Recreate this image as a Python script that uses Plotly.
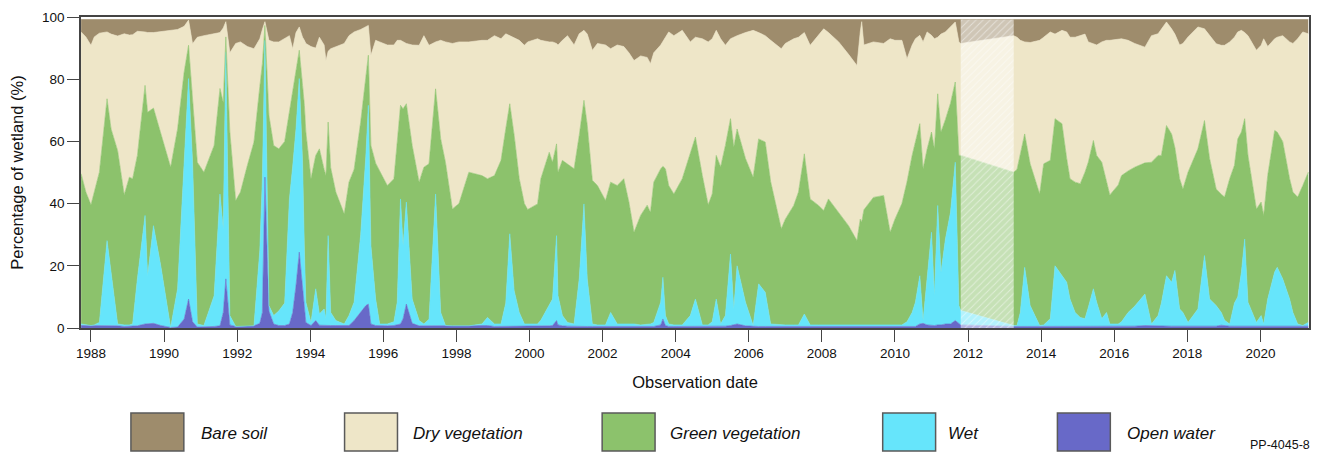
import plotly.graph_objects as go

# ---------------- data ----------------
obs_date = [1987.73, 1987.86, 1988.00, 1988.09, 1988.23, 1988.44, 1988.55, 1988.73, 1988.91, 1989.05,
            1989.14, 1989.27, 1989.48, 1989.55, 1989.71, 1989.91, 1990.18, 1990.37, 1990.55, 1990.67,
            1990.78, 1990.91, 1991.09, 1991.37, 1991.53, 1991.62, 1991.69, 1991.80, 1991.96, 1992.09,
            1992.28, 1992.46, 1992.62, 1992.69, 1992.76, 1992.87, 1993.00, 1993.14, 1993.30, 1993.43,
            1993.52, 1993.61, 1993.70, 1993.79, 1993.84, 1993.88, 1994.02, 1994.15, 1994.25, 1994.38,
            1994.43, 1994.49, 1994.56, 1994.70, 1994.93, 1995.06, 1995.20, 1995.38, 1995.52, 1995.59,
            1995.66, 1995.79, 1995.90, 1996.11, 1996.29, 1996.38, 1996.47, 1996.54, 1996.63, 1996.79,
            1996.98, 1997.11, 1997.25, 1997.43, 1997.57, 1997.70, 1997.89, 1998.07, 1998.34, 1998.70,
            1998.85, 1999.04, 1999.22, 1999.35, 1999.46, 1999.58, 1999.72, 1999.86, 1999.95, 2000.22,
            2000.31, 2000.54, 2000.63, 2000.74, 2000.78, 2000.90, 2001.04, 2001.22, 2001.36, 2001.49,
            2001.58, 2001.72, 2001.86, 2002.08, 2002.22, 2002.40, 2002.58, 2002.72, 2002.86, 2003.04,
            2003.22, 2003.31, 2003.40, 2003.59, 2003.65, 2003.72, 2003.81, 2003.95, 2004.18, 2004.40,
            2004.54, 2004.73, 2004.89, 2005.00, 2005.11, 2005.23, 2005.36, 2005.50, 2005.59, 2005.68,
            2005.91, 2006.12, 2006.27, 2006.45, 2006.60, 2006.89, 2007.00, 2007.23, 2007.36, 2007.52,
            2007.68, 2007.91, 2008.05, 2008.18, 2008.46, 2008.73, 2008.96, 2009.05, 2009.09, 2009.15,
            2009.41, 2009.69, 2009.87, 2010.00, 2010.19, 2010.33, 2010.47, 2010.56, 2010.68, 2010.77,
            2010.88, 2011.00, 2011.08, 2011.17, 2011.26, 2011.38, 2011.52, 2011.65, 2011.75, 2011.80,
            2013.25, 2013.34, 2013.43, 2013.55, 2013.70, 2013.96, 2014.07, 2014.25, 2014.38, 2014.57,
            2014.70, 2014.79, 2014.93, 2015.07, 2015.20, 2015.29, 2015.43, 2015.52, 2015.66, 2015.79,
            2015.88, 2016.11, 2016.20, 2016.38, 2016.56, 2016.84, 2017.02, 2017.20, 2017.29, 2017.43,
            2017.57, 2017.66, 2017.79, 2017.88, 2018.02, 2018.29, 2018.47, 2018.61, 2018.79, 2018.93,
            2019.02, 2019.16, 2019.29, 2019.38, 2019.48, 2019.57, 2019.66, 2019.89, 2020.02, 2020.09,
            2020.20, 2020.39, 2020.46, 2020.61, 2020.80, 2020.89, 2021.02, 2021.16, 2021.31]

open_water = [0.8, 0.8, 0.8, 0.8, 0.8, 0.7, 0.7, 0.7, 0.5, 0.5,
              0.5, 0.7, 1.3, 1.3, 1.5, 0.8, 0.2, 0.3, 2.9, 9.3,
              2.0, 0.3, 0.3, 0.5, 0.7, 5.0, 15.8, 1.0, 0.5, 0.5,
              0.5, 0.7, 1.5, 5.0, 48.5, 5.5, 1.3, 0.8, 0.8, 1.3,
              5.0, 13.6, 24.4, 12.5, 5.0, 1.8, 0.8, 2.4, 0.9, 0.8,
              0.8, 0.8, 0.8, 0.8, 0.8, 0.8, 2.4, 5.0, 7.2, 7.7,
              1.3, 0.8, 0.7, 0.7, 0.8, 1.0, 1.3, 3.0, 7.7, 1.5,
              0.7, 0.7, 0.7, 0.7, 0.7, 0.7, 0.7, 0.7, 0.7, 0.7,
              0.8, 0.5, 0.5, 0.5, 0.5, 0.5, 0.5, 0.5, 0.5, 0.5,
              0.6, 0.7, 0.8, 2.4, 1.0, 0.7, 0.6, 0.5, 0.5, 0.5,
              0.5, 0.5, 0.5, 0.5, 0.5, 0.5, 0.5, 0.5, 0.5, 0.5,
              0.5, 0.5, 0.5, 1.0, 2.9, 0.8, 0.5, 0.5, 0.5, 0.5,
              0.5, 0.5, 0.5, 0.5, 0.5, 0.5, 0.6, 0.8, 1.0, 1.3,
              0.7, 0.5, 0.5, 0.5, 0.5, 0.5, 0.5, 0.5, 0.5, 0.5,
              0.5, 0.5, 0.5, 0.5, 0.5, 0.5, 0.5, 0.5, 0.5, 0.5,
              0.5, 0.5, 0.5, 0.5, 0.5, 0.5, 0.5, 0.5, 1.3, 1.5,
              1.0, 0.8, 0.8, 1.0, 1.0, 1.3, 1.3, 2.4, 1.3, 1.0,
              0.5, 0.5, 0.5, 0.5, 0.5, 0.5, 0.5, 0.5, 0.5, 0.5,
              0.5, 0.5, 0.5, 0.5, 0.5, 0.5, 0.5, 0.5, 0.5, 0.5,
              0.5, 0.5, 0.5, 0.5, 0.6, 0.8, 0.7, 0.6, 0.6, 0.6,
              0.6, 0.6, 0.6, 0.6, 0.6, 0.6, 0.6, 0.6, 0.6, 0.9,
              0.7, 0.6, 0.6, 0.6, 0.6, 0.6, 0.6, 0.8, 0.6, 0.6,
              0.6, 0.6, 0.6, 0.6, 0.6, 0.6, 0.6, 0.6, 0.6]

wet = [0.5, 0.2, 0.0, 0.2, 1.0, 27.4, 17.2, 0.6, 0.5, 0.5,
       0.8, 15.1, 34.9, 15.5, 31.4, 19.2, 0.0, 12.3, 50.4, 70.9,
       51.3, 1.0, 0.5, 9.9, 42.4, 26.9, 72.9, 3.0, 0.0, 0.0,
       0.0, 0.0, 23.5, 43.0, 44.0, 1.7, 2.7, 4.7, 7.2, 40.2,
       47.0, 50.4, 55.8, 40.8, 20.0, 6.5, 1.0, 10.2, 3.6, 5.3,
       2.2, 28.9, 4.2, 1.6, 0.5, 3.2, 5.9, 25.0, 47.8, 63.9,
       25.2, 8.5, 0.6, 0.6, 1.2, 7.3, 40.2, 23.5, 32.8, 7.8,
       1.7, 0.6, 2.1, 42.4, 4.3, 0.1, 0.0, 0.0, 0.0, 0.6,
       2.6, 0.8, 0.8, 7.5, 29.8, 11.5, 4.5, 0.8, 0.8, 0.8,
       1.9, 6.5, 8.5, 27.3, 9.4, 3.3, 1.2, 0.8, 15.3, 39.4,
       15.3, 0.8, 0.5, 0.5, 4.5, 0.8, 0.8, 0.8, 0.8, 0.5,
       0.8, 0.8, 1.3, 7.3, 13.4, 3.2, 0.8, 0.5, 0.5, 3.5,
       8.8, 0.5, 0.5, 1.5, 8.8, 0.8, 3.4, 23.0, 5.1, 18.7,
       7.6, 0.3, 13.7, 11.0, 0.8, 0.5, 0.5, 0.5, 0.5, 4.0,
       0.5, 0.5, 0.5, 0.5, 0.5, 0.5, 0.5, 0.5, 0.5, 0.5,
       0.5, 0.5, 0.5, 0.5, 0.5, 1.5, 4.5, 7.8, 15.5, 0.9,
       14.8, 30.0, 9.6, 38.4, 16.9, 27.2, 35.9, 50.9, 5.9, 4.6,
       0.3, 0.3, 4.5, 19.0, 6.7, 0.3, 0.5, 2.5, 19.5, 16.5,
       14.2, 8.8, 4.5, 2.9, 2.5, 6.1, 12.1, 7.8, 2.5, 4.5,
       0.8, 0.8, 1.5, 4.5, 6.4, 10.1, 0.6, 3.4, 7.4, 16.2,
       14.1, 17.9, 5.5, 4.4, 1.2, 5.5, 22.7, 8.7, 6.6, 4.1,
       1.8, 0.7, 7.4, 9.4, 17.3, 28.0, 7.7, 1.0, 3.4, 0.7,
       8.7, 17.4, 18.9, 15.2, 8.7, 4.4, 0.7, 0.2, 1.2]

green_vegetation = [48.3, 42.7, 38.8, 42.7, 48.3, 45.6, 46.1, 55.7, 41.8, 47.5,
                    46.7, 39.7, 41.8, 52.6, 37.8, 42.6, 51.5, 51.4, 29.0, 10.7,
                    20.4, 52.0, 49.3, 48.3, 33.9, 40.6, 4.9, 59.0, 40.5, 43.2,
                    51.8, 59.1, 52.6, 37.0, 4.8, 61.1, 54.7, 52.1, 52.0, 27.9,
                    24.0, 18.3, 9.1, 24.7, 46.6, 54.7, 46.2, 42.9, 53.1, 44.9,
                    46.0, 36.5, 46.5, 41.3, 35.4, 42.9, 42.7, 36.2, 25.0, 16.1,
                    32.2, 43.7, 49.2, 44.5, 46.0, 51.7, 30.1, 44.0, 31.6, 49.4,
                    44.5, 50.4, 50.0, 33.8, 55.8, 52.5, 37.6, 39.3, 49.4, 47.7,
                    44.6, 47.7, 52.6, 56.0, 41.8, 50.0, 43.0, 38.7, 36.8, 38.6,
                    45.5, 49.3, 44.0, 29.5, 39.7, 49.9, 51.0, 49.9, 46.1, 33.3,
                    49.5, 46.2, 44.8, 40.0, 41.9, 44.5, 46.7, 39.2, 29.5, 35.2,
                    38.2, 35.9, 45.1, 42.9, 35.7, 47.2, 44.5, 42.1, 47.0, 52.5,
                    52.1, 48.0, 38.6, 41.1, 46.2, 50.5, 54.7, 43.5, 52.1, 44.0,
                    46.2, 47.7, 46.6, 48.3, 45.7, 30.9, 34.0, 38.4, 42.7, 51.5,
                    40.5, 38.4, 36.8, 40.5, 36.2, 31.9, 27.1, 34.0, 33.0, 37.0,
                    41.0, 41.6, 29.8, 34.0, 39.0, 45.0, 50.5, 51.7, 48.9, 48.8,
                    41.7, 32.2, 47.2, 35.9, 45.1, 38.5, 35.1, 25.8, 48.3, 49.9,
                    49.3, 50.2, 51.0, 42.9, 45.6, 42.3, 51.8, 50.9, 47.3, 48.7,
                    39.8, 38.7, 41.9, 43.0, 47.1, 46.7, 47.7, 47.2, 50.3, 42.4,
                    41.5, 44.7, 47.0, 45.5, 44.7, 42.2, 52.0, 51.5, 47.5, 48.3,
                    47.7, 39.5, 41.9, 39.7, 48.3, 51.5, 43.4, 45.2, 37.5, 38.0,
                    39.6, 46.7, 44.3, 50.8, 45.1, 38.7, 47.2, 36.5, 36.5, 34.9,
                    39.7, 45.5, 43.5, 44.2, 38.7, 38.7, 40.8, 45.0, 48.3]

dry_vegetation = [45.6, 49.9, 51.3, 49.9, 44.7, 21.5, 30.5, 36.9, 51.8, 45.7,
                  46.3, 39.9, 17.2, 25.6, 24.3, 32.7, 44.1, 32.0, 14.7, 8.1,
                  17.7, 40.2, 43.9, 35.8, 18.0, 24.0, 4.9, 25.5, 50.5, 48.3,
                  38.2, 30.0, 15.4, 11.0, 1.2, 24.2, 33.3, 34.4, 33.0, 24.6,
                  13.8, 12.7, 7.5, 15.5, 20.9, 28.5, 42.5, 34.5, 35.9, 40.0,
                  37.0, 22.8, 38.3, 46.7, 54.8, 47.1, 44.2, 29.8, 16.8, 9.6,
                  29.0, 39.5, 41.5, 45.2, 43.0, 32.5, 20.9, 21.5, 19.4, 32.3,
                  44.0, 42.3, 38.1, 15.1, 31.7, 38.7, 53.2, 52.0, 41.9, 43.5,
                  44.5, 45.0, 39.1, 30.6, 21.9, 31.5, 44.5, 50.9, 53.9, 53.1,
                  44.5, 35.5, 38.7, 32.3, 40.9, 38.6, 41.2, 39.8, 32.7, 22.5,
                  29.2, 41.8, 45.7, 50.0, 42.9, 45.2, 42.5, 48.0, 55.2, 51.3,
                  47.5, 47.8, 41.6, 39.8, 40.0, 42.3, 49.4, 50.9, 47.7, 35.5,
                  32.1, 44.0, 52.4, 49.9, 40.2, 41.2, 32.2, 25.7, 35.3, 30.0,
                  40.5, 47.2, 34.2, 34.2, 45.5, 57.9, 56.5, 53.6, 49.8, 39.0,
                  49.4, 54.6, 58.4, 53.5, 54.8, 55.1, 56.3, 60.2, 64.5, 53.0,
                  50.0, 48.9, 62.2, 57.5, 52.5, 39.6, 35.5, 33.0, 28.4, 40.8,
                  37.7, 31.1, 35.4, 18.2, 31.5, 28.2, 24.5, 19.3, 36.5, 36.0,
                  43.9, 42.5, 36.5, 29.6, 39.0, 49.4, 40.7, 41.3, 27.2, 30.0,
                  40.7, 45.5, 46.6, 47.7, 44.4, 38.7, 31.2, 35.5, 38.7, 45.1,
                  49.7, 47.0, 44.0, 42.0, 39.8, 37.2, 40.7, 39.1, 40.5, 33.3,
                  33.8, 36.5, 43.0, 46.8, 43.5, 39.2, 29.5, 39.5, 46.7, 47.9,
                  48.8, 44.0, 41.2, 34.4, 32.7, 27.7, 38.5, 51.0, 50.4, 56.8,
                  41.5, 29.5, 30.5, 34.0, 44.0, 47.8, 50.9, 49.4, 44.5]

bare_soil = [4.0, 5.6, 8.3, 5.6, 4.4, 4.0, 4.7, 5.3, 4.6, 5.0,
             4.9, 3.8, 4.0, 4.2, 4.2, 3.9, 3.4, 3.2, 2.2, 0.2,
             7.8, 5.7, 5.2, 4.7, 4.2, 2.7, 0.7, 10.7, 7.7, 7.2,
             8.7, 9.4, 6.2, 3.2, 0.7, 6.7, 7.2, 7.2, 6.2, 5.2,
             9.4, 4.2, 2.4, 5.7, 6.7, 7.7, 8.7, 9.2, 5.7, 8.2,
             13.2, 10.2, 9.4, 8.8, 7.7, 5.2, 4.0, 3.2, 2.4, 1.9,
             11.5, 6.7, 7.2, 8.2, 8.2, 6.7, 6.7, 7.2, 7.7, 8.2,
             8.3, 5.2, 8.3, 7.2, 6.7, 7.2, 7.7, 7.2, 7.2, 6.7,
             6.7, 5.2, 6.2, 4.6, 5.2, 5.7, 6.7, 8.3, 7.2, 6.2,
             6.7, 7.2, 7.2, 7.7, 8.2, 6.7, 5.2, 8.2, 4.6, 3.5,
             4.7, 9.9, 7.7, 8.2, 9.4, 8.2, 8.7, 10.7, 13.2, 11.7,
             12.2, 14.2, 10.7, 8.2, 7.2, 5.7, 4.0, 5.2, 3.5, 7.2,
             5.7, 6.2, 7.2, 6.2, 3.5, 6.2, 8.3, 6.2, 5.7, 5.2,
             4.2, 3.5, 4.2, 5.2, 6.7, 9.4, 7.7, 6.2, 5.7, 4.2,
             8.3, 5.2, 3.0, 4.2, 7.2, 11.2, 14.8, 4.0, 0.7, 8.2,
             7.2, 7.7, 6.2, 6.7, 6.7, 12.6, 8.2, 6.2, 5.1, 7.2,
             4.0, 5.1, 6.2, 5.7, 4.7, 4.0, 2.4, 0.8, 7.2, 7.7,
             5.2, 5.7, 6.7, 7.2, 7.4, 6.7, 5.7, 4.0, 4.7, 3.5,
             4.0, 5.7, 5.7, 5.1, 4.7, 7.2, 7.7, 8.2, 7.2, 6.7,
             6.7, 6.2, 6.2, 6.7, 7.7, 8.9, 5.2, 4.6, 3.2, 0.8,
             3.0, 4.7, 8.2, 7.7, 5.6, 2.4, 3.0, 5.2, 7.8, 8.3,
             8.3, 7.2, 5.7, 4.0, 3.5, 4.2, 5.2, 9.9, 8.3, 6.2,
             8.7, 6.2, 5.7, 5.2, 7.2, 7.7, 6.2, 4.0, 4.6]

# period without observations (drawn interpolated, washed out)
gap_start = 2011.80
gap_end = 2013.25

series_names = ["Bare soil", "Dry vegetation", "Green vegetation", "Wet", "Open water"]
series_colors = ["#9E8C6C", "#EEE6C8", "#8CC26C", "#66E5FB", "#6869C8"]
year_ticks = list(range(1988, 2021, 2))
year_labels = [str(y) for y in year_ticks]

series_values = {
    "Bare soil": bare_soil,
    "Dry vegetation": dry_vegetation,
    "Green vegetation": green_vegetation,
    "Wet": wet,
    "Open water": open_water,
}
for nm, vals in series_values.items():
    assert len(vals) == len(obs_date), (nm, len(vals), len(obs_date))

# ---------------- figure ----------------
FONT = "Liberation Sans, Arial, Helvetica, sans-serif"
fig = go.Figure()

color_of = dict(zip(series_names, series_colors))
for nm in ["Open water", "Wet", "Green vegetation", "Dry vegetation", "Bare soil"]:
    fig.add_trace(go.Scatter(
        x=obs_date, y=series_values[nm], name=nm,
        mode="lines", stackgroup="wetland",
        line=dict(width=0.6, color=color_of[nm]),
        fillcolor=color_of[nm], showlegend=False,
    ))

# washed-out hatched overlay over the interpolated gap
stack_top = [b + d + g + w + o for b, d, g, w, o in
             zip(bare_soil, dry_vegetation, green_vegetation, wet, open_water)]
top_gap = max(stack_top)
fig.add_trace(go.Scatter(
    x=[gap_start, gap_end, gap_end, gap_start, gap_start],
    y=[0, 0, top_gap, top_gap, 0],
    mode="lines", fill="toself", line=dict(width=0),
    fillcolor="rgba(255,255,255,0.5)",
    fillpattern=dict(shape="/", fgcolor="#ffffff", fgopacity=0.45,
                     bgcolor="rgba(255,255,255,0.5)", size=5, solidity=0.2),
    showlegend=False, hoverinfo="skip",
))

# plot-area geometry in pixels (for the hand-drawn legend)
W, H = 1321, 452
ML, MR, MT, MB = 81, 10, 17, 124
PW, PH = W - ML - MR, H - MT - MB


def px_x(p):
    return (p - ML) / PW


def px_y(p):
    return (H - MB - p) / PH


box_left = [131, 345, 603, 884, 1059]
text_left = [199, 412, 669, 947, 1127]
shapes = []
annotations = []
for nm, col, bx, tx in zip(series_names, series_colors, box_left, text_left):
    shapes.append(dict(type="rect", xref="paper", yref="paper",
                       x0=px_x(bx), x1=px_x(bx + 53), y0=px_y(451), y1=px_y(413),
                       fillcolor=col, line=dict(color="#5a5a5a", width=1.5)))
    annotations.append(dict(xref="paper", yref="paper", x=px_x(tx), y=px_y(433),
                            xanchor="left", yanchor="middle", showarrow=False,
                            text=f"<i>{nm}</i>",
                            font=dict(family=FONT, size=17, color="#111")))
annotations.append(dict(xref="paper", yref="paper", x=px_x(1314), y=px_y(445),
                        xanchor="right", yanchor="middle", showarrow=False,
                        text="PP-4045-8", font=dict(family=FONT, size=12.5, color="#111")))

axis_common = dict(showline=True, linecolor="#444", linewidth=1.6, mirror=True,
                   ticks="outside", ticklen=12, tickwidth=1.4, tickcolor="#444",
                   showgrid=False, zeroline=False,
                   tickfont=dict(family=FONT, size=13.5, color="#111"))

fig.update_layout(
    width=W, height=H,
    margin=dict(l=ML, r=MR, t=MT, b=MB),
    paper_bgcolor="white", plot_bgcolor="white",
    font=dict(family=FONT, color="#111"),
    showlegend=False,
    xaxis=dict(range=[1987.727, 2021.33], tickvals=year_ticks, ticktext=year_labels,
               title=dict(text="Observation date", font=dict(family=FONT, size=16.5), standoff=16),
               **axis_common),
    yaxis=dict(range=[0, 100], tickvals=[0, 20, 40, 60, 80, 100],
               title=dict(text="Percentage of wetland (%)", font=dict(family=FONT, size=16.5), standoff=14),
               **axis_common),
    shapes=shapes,
    annotations=annotations,
)

# remove the default page margin so the figure sits at the window's top-left corner
fig.write_html("out.html",
               config={"displayModeBar": False},
               post_script="document.body.style.margin='0';document.body.style.overflow='hidden';")
